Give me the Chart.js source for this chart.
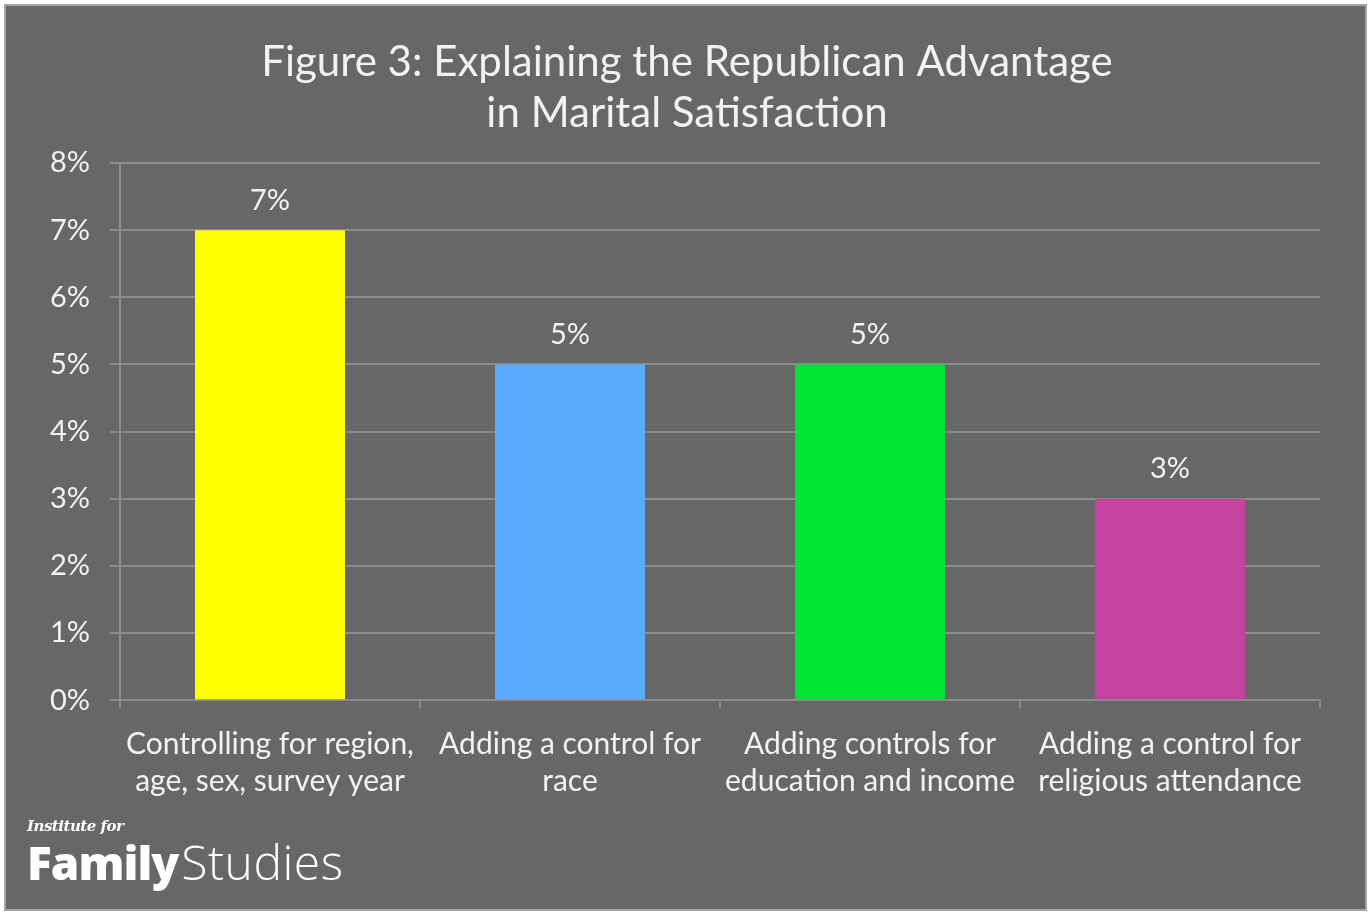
<!DOCTYPE html>
<html lang="en">
<head>
    <meta charset="UTF-8">
    <title>Figure 3: Explaining the Republican Advantage in Marital Satisfaction</title>
    <script src="https://cdn.jsdelivr.net/npm/chart.js"></script>
    <style>
        * {
            margin: 0;
            padding: 0;
            box-sizing: border-box;
        }
        body {
            background-color: #ffffff;
            width: 1369px;
            height: 913px;
            overflow: hidden;
            position: relative;
            font-family: Lato, sans-serif;
        }
        .frame {
            position: absolute;
            left: 4px;
            top: 4px;
            width: 1363px;
            height: 907px;
            background-color: #676767;
            border: 2px solid #a4a4a4;
        }
        #wrap {
            position: absolute;
            left: 0;
            top: 0;
            width: 1369px;
            height: 913px;
        }
        .logo {
            position: absolute;
            left: 27px;
            top: 815px;
            color: #ffffff;
        }
        .logo .inst {
            font-family: "DejaVu Serif", serif;
            font-style: italic;
            font-weight: bold;
            font-size: 15px;
            letter-spacing: -0.5px;
            display: block;
            line-height: 22px;
        }
        .logo .name {
            font-family: "Open Sans", sans-serif;
            line-height: 50px;
            display: block;
            white-space: nowrap;
        }
        .logo .name b {
            font-size: 46px;
            font-weight: 800;
            letter-spacing: -1px;
        }
        .logo .name span {
            font-size: 48px;
            font-weight: 300;
            letter-spacing: 0.5px;
            margin-left: 3px;
        }
    </style>
</head>
<body>
    <div class="frame"></div>
    <div id="wrap"><canvas id="chart"></canvas></div>
    <div class="logo">
        <span class="inst">Institute for</span>
        <span class="name"><b>Family</b><span>Studies</span></span>
    </div>

    <script>
        const titleLines = ['Figure 3: Explaining the Republican Advantage', 'in Marital Satisfaction'];
        const categories = [
            ['Controlling for region,', 'age, sex, survey year'],
            ['Adding a control for', 'race'],
            ['Adding controls for', 'education and income'],
            ['Adding a control for', 'religious attendance']
        ];
        const values = [7, 5, 5, 3];
        const barColors = ['#ffff00', '#5aabfd', '#00e436', '#c444a0'];
        const yTicks = [0, 1, 2, 3, 4, 5, 6, 7, 8];

        const textColor = '#f2f2f2';
        const gridColor = '#8c8c8c';

        // title centred on the whole frame, not on the plot
        const frameTitle = {
            id: 'frameTitle',
            afterDraw(chart) {
                const ctx = chart.ctx;
                ctx.save();
                ctx.fillStyle = textColor;
                ctx.font = '42px Lato, sans-serif';
                ctx.textAlign = 'center';
                ctx.textBaseline = 'middle';
                titleLines.forEach((line, i) => {
                    ctx.fillText(line, 687, 62 + i * 51);
                });
                ctx.restore();
            }
        };

        // value labels above each bar
        const barLabels = {
            id: 'barLabels',
            afterDatasetsDraw(chart) {
                const ctx = chart.ctx;
                const meta = chart.getDatasetMeta(0);
                ctx.save();
                ctx.fillStyle = textColor;
                ctx.font = '29px Lato, sans-serif';
                ctx.textAlign = 'center';
                ctx.textBaseline = 'middle';
                meta.data.forEach((bar, i) => {
                    ctx.fillText(values[i] + '%', bar.x, bar.y - 30);
                });
                ctx.restore();
            }
        };

        new Chart(document.getElementById('chart'), {
            type: 'bar',
            data: {
                labels: categories,
                datasets: [{
                    data: values,
                    backgroundColor: barColors,
                    borderWidth: 0,
                    barPercentage: 0.5,
                    categoryPercentage: 1.0
                }]
            },
            options: {
                responsive: true,
                maintainAspectRatio: false,
                animation: false,
                layout: {
                    padding: { top: 163, left: 0, right: 49, bottom: 95 }
                },
                plugins: {
                    legend: { display: false },
                    tooltip: { enabled: false },
                    title: { display: false }
                },
                scales: {
                    x: {
                        grid: {
                            display: true,
                            drawOnChartArea: false,
                            drawTicks: true,
                            tickLength: 8,
                            color: gridColor,
                            lineWidth: 2,
                            offset: true
                        },
                        border: { display: true, color: gridColor, width: 2 },
                        ticks: {
                            color: textColor,
                            font: { family: 'Lato, sans-serif', size: 30, lineHeight: 1.23 },
                            padding: 18,
                            maxRotation: 0,
                            autoSkip: false
                        }
                    },
                    y: {
                        min: 0,
                        max: 8,
                        afterFit(scale) { scale.width = 120; },
                        afterBuildTicks(scale) { scale.ticks = yTicks.map(v => ({ value: v })); },
                        grid: {
                            color: gridColor,
                            lineWidth: 2,
                            tickLength: 10
                        },
                        border: { display: true, color: gridColor, width: 2 },
                        ticks: {
                            color: textColor,
                            font: { family: 'Lato, sans-serif', size: 29 },
                            padding: 20,
                            callback: v => v + '%'
                        }
                    }
                }
            },
            plugins: [barLabels, frameTitle]
        });
    </script>
</body>
</html>
